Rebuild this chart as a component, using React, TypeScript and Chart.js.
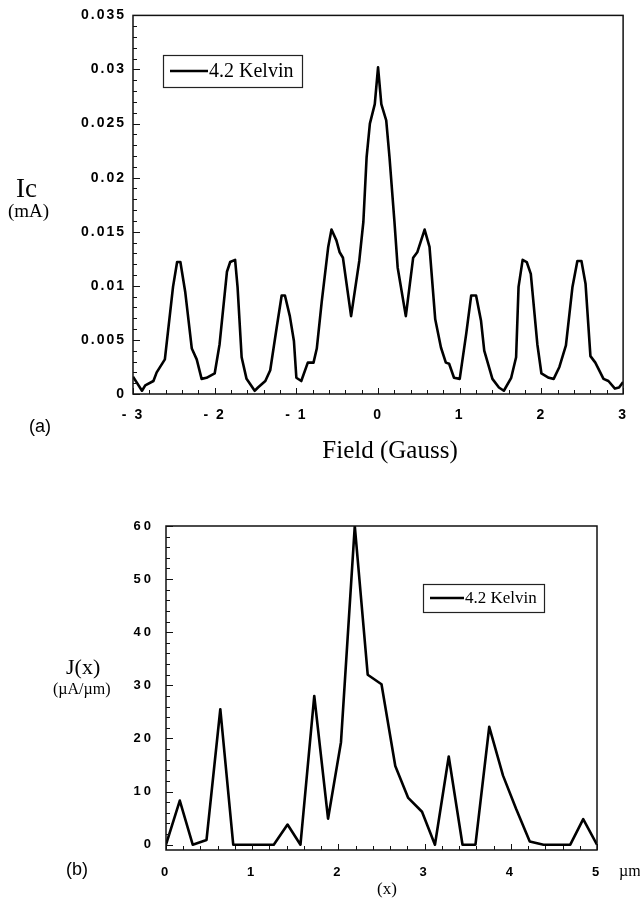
import React, { useEffect, useRef } from "react";
import { Chart, registerables } from "chart.js";

Chart.register(...registerables);

// ---------- Panel (a): critical current vs field ----------
const fieldGauss = [
  -3.0, -2.89, -2.85, -2.75, -2.71, -2.61, -2.51, -2.46, -2.42, -2.36, -2.28, -2.22, -2.16, -2.1, -2.0,
  -1.94, -1.85, -1.81, -1.75, -1.72, -1.67, -1.61, -1.51, -1.47, -1.38, -1.32, -1.24, -1.18, -1.14, -1.08,
  -1.03, -1.0, -0.94, -0.86, -0.79, -0.75, -0.69, -0.61, -0.57, -0.51, -0.47, -0.43, -0.33, -0.23, -0.18,
  -0.14, -0.1, -0.04, 0.0, 0.04, 0.1, 0.14, 0.2, 0.24, 0.34, 0.43, 0.48, 0.57, 0.63, 0.7, 0.77, 0.83, 0.87,
  0.93, 1.0, 1.08, 1.14, 1.2, 1.26, 1.3, 1.4, 1.48, 1.54, 1.63, 1.69, 1.72, 1.77, 1.82, 1.87, 1.95, 2.0,
  2.09, 2.15, 2.22, 2.3, 2.38, 2.44, 2.49, 2.54, 2.6, 2.66, 2.76, 2.82, 2.9, 2.95, 3.0,
];
const icMilliAmp = [
  0.0016, 0.0003, 0.0008, 0.0012, 0.002, 0.0032, 0.0099, 0.0122, 0.0122, 0.0094, 0.0042, 0.0032, 0.0014, 0.0015, 0.0019,
  0.0046, 0.0113, 0.0122, 0.0124, 0.0099, 0.0034, 0.0014, 0.0003, 0.0006, 0.0012, 0.0022, 0.0062, 0.0091, 0.0091, 0.0072,
  0.0049, 0.0015, 0.0012, 0.0029, 0.0029, 0.0042, 0.0085, 0.0136, 0.0152, 0.0142, 0.0131, 0.0126, 0.0072, 0.0123, 0.0159,
  0.0219, 0.025, 0.0268, 0.0302, 0.0268, 0.0253, 0.0219, 0.016, 0.0117, 0.0072, 0.0126, 0.0131, 0.0152, 0.0136, 0.0069, 0.0043, 0.0029, 0.0028,
  0.0015, 0.0014, 0.0056, 0.0091, 0.0091, 0.0068, 0.004, 0.0014, 0.0006, 0.0003, 0.0015, 0.0034, 0.0099, 0.0124, 0.0122, 0.0111, 0.0046, 0.0019,
  0.0015, 0.0014, 0.0025, 0.0045, 0.0099, 0.0123, 0.0123, 0.0102, 0.0035, 0.0029, 0.0014, 0.0012, 0.0005, 0.0006, 0.0011,
];
const icTicks = [0, 0.005, 0.01, 0.015, 0.02, 0.025, 0.03, 0.035];
const icTickLabels = ["0", "0.005", "0.01", "0.015", "0.02", "0.025", "0.03", "0.035"];
const fieldTicks = [-3, -2, -1, 0, 1, 2, 3];
const fieldTickLabels = ["- 3", "- 2", "- 1", "0", "1", "2", "3"];

// ---------- Panel (b): current density vs position ----------
const positionMicron = [
  0.0, 0.16, 0.31, 0.47, 0.63, 0.78, 0.94, 1.09, 1.25, 1.41, 1.56, 1.72, 1.88, 2.03, 2.19, 2.34, 2.5,
  2.66, 2.81, 2.97, 3.12, 3.28, 3.44, 3.59, 3.75, 3.91, 4.06, 4.22, 4.38, 4.53, 4.69, 4.84, 5.0,
];
const currentDensity = [
  0, 8.3, 0, 0.9, 25.5, 0, 0, 0, 0, 3.8, 0, 28, 4.9, 19.3, 60, 32, 30.2,
  14.8, 8.8, 6.2, 0, 16.6, 0, 0, 22.2, 13, 6.8, 0.6, 0, 0, 0, 4.8, 0,
];
const jTicks = [0, 10, 20, 30, 40, 50, 60];
const jTickLabels = ["0", "10", "20", "30", "40", "50", "60"];
const posTicks = [0, 1, 2, 3, 4, 5];
const posTickLabels = ["0", "1", "2", "3", "4", "5"];

const seriesLabel = "4.2 Kelvin";

type TextItem = { text: string; x: number; y: number; font: string; align?: CanvasTextAlign };

function framePlugin(cfg: {
  xMinor: number;
  yMinor: number;
  xMajor: number[];
  yMajor: number[];
  yFrom: number;
  yTo: number;
  letter: string;
  texts: TextItem[];
  legend: { x: number; y: number; w: number; h: number; lineLen: number; font: string };
}) {
  return {
    id: "frame",
    beforeDraw(chart: any) {
      const ctx = chart.ctx;
      ctx.fillStyle = "#fff";
      ctx.fillRect(0, 0, chart.width, chart.height);
      (ctx as any).letterSpacing = cfg.letter;
    },
    afterDraw(chart: any) {
      const ctx = chart.ctx;
      const { left, right, top, bottom } = chart.chartArea;
      const xs = chart.scales.x;
      const ys = chart.scales.y;
      ctx.save();
      (ctx as any).letterSpacing = "0px";
      ctx.strokeStyle = "#111";
      ctx.lineWidth = 1.5;
      ctx.strokeRect(left, top, right - left, bottom - top);
      ctx.lineWidth = 1;
      ctx.beginPath();
      for (let v = xs.min; v <= xs.max + 1e-9; v += cfg.xMinor) {
        const px = Math.round(xs.getPixelForValue(v)) + 0.5;
        ctx.moveTo(px, bottom);
        ctx.lineTo(px, bottom - 4);
      }
      for (const v of cfg.xMajor) {
        const px = Math.round(xs.getPixelForValue(v)) + 0.5;
        ctx.moveTo(px, bottom);
        ctx.lineTo(px, bottom - 6);
      }
      for (let v = cfg.yFrom; v <= cfg.yTo + 1e-9; v += cfg.yMinor) {
        const py = Math.round(ys.getPixelForValue(v)) + 0.5;
        ctx.moveTo(left, py);
        ctx.lineTo(left + 4, py);
      }
      for (const v of cfg.yMajor) {
        const py = Math.round(ys.getPixelForValue(v)) + 0.5;
        ctx.moveTo(left, py);
        ctx.lineTo(left + 7, py);
      }
      ctx.stroke();

      const lg = cfg.legend;
      ctx.fillStyle = "#fff";
      ctx.fillRect(lg.x, lg.y, lg.w, lg.h);
      ctx.lineWidth = 1.2;
      ctx.strokeStyle = "#222";
      ctx.strokeRect(lg.x + 0.5, lg.y + 0.5, lg.w, lg.h);
      ctx.lineWidth = 2.5;
      ctx.strokeStyle = "#000";
      ctx.beginPath();
      ctx.moveTo(lg.x + 7, lg.y + lg.h / 2);
      ctx.lineTo(lg.x + 7 + lg.lineLen, lg.y + lg.h / 2);
      ctx.stroke();
      ctx.fillStyle = "#000";
      ctx.font = lg.font;
      ctx.textAlign = "left";
      ctx.textBaseline = "middle";
      ctx.fillText(chart.data.datasets[0].label, lg.x + 8 + lg.lineLen, lg.y + lg.h / 2 + 1);

      for (const t of cfg.texts) {
        ctx.font = t.font;
        ctx.textAlign = t.align || "left";
        ctx.textBaseline = "middle";
        ctx.fillText(t.text, t.x, t.y);
      }
      ctx.restore();
    },
  };
}

function buildChart(
  canvas: HTMLCanvasElement,
  xs: number[],
  ys: number[],
  o: {
    xMin: number; xMax: number; yMin: number; yMax: number;
    xTicks: number[]; xLabels: string[]; yTicks: number[]; yLabels: string[];
    yWidth: number; xHeight: number; padTop: number; padRight: number;
    tickSize: number; xPad: number; yPad: number;
    plugin: any;
  }
) {
  const font = { family: "'Liberation Sans', Arial, sans-serif", weight: "bold" as const, size: o.tickSize };
  return new Chart(canvas, {
    type: "scatter",
    data: {
      datasets: [
        {
          label: seriesLabel,
          data: xs.map((x, i) => ({ x, y: ys[i] })),
          showLine: true,
          borderColor: "#000",
          borderWidth: 2.6,
          pointRadius: 0,
          tension: 0,
          borderJoinStyle: "round",
        },
      ],
    },
    options: {
      animation: false,
      responsive: false,
      events: [],
      layout: { padding: { top: o.padTop, right: o.padRight, left: 0, bottom: 0 } },
      plugins: { legend: { display: false }, tooltip: { enabled: false } },
      scales: {
        x: {
          type: "linear",
          min: o.xMin,
          max: o.xMax,
          grid: { display: false, drawTicks: false },
          border: { display: false },
          afterBuildTicks: (s: any) => {
            s.ticks = o.xTicks.map((v) => ({ value: v }));
          },
          afterFit: (s: any) => {
            s.height = o.xHeight;
          },
          ticks: {
            autoSkip: false,
            maxRotation: 0,
            padding: o.xPad,
            color: "#000",
            font,
            callback: (_v: any, i: number) => o.xLabels[i],
          },
        },
        y: {
          type: "linear",
          min: o.yMin,
          max: o.yMax,
          grid: { display: false, drawTicks: false },
          border: { display: false },
          afterBuildTicks: (s: any) => {
            s.ticks = o.yTicks.map((v) => ({ value: v }));
          },
          afterFit: (s: any) => {
            s.width = o.yWidth;
          },
          ticks: {
            autoSkip: false,
            padding: o.yPad,
            color: "#000",
            font,
            callback: (_v: any, i: number) => o.yLabels[i],
          },
        },
      },
    },
    plugins: [o.plugin],
  } as any);
}

const serif = "'Liberation Serif', 'Times New Roman', serif";
const sans = "'Liberation Sans', Arial, sans-serif";

export default function App() {
  const refA = useRef<HTMLCanvasElement>(null);
  const refB = useRef<HTMLCanvasElement>(null);

  useEffect(() => {
    const a = buildChart(refA.current!, fieldGauss, icMilliAmp, {
      xMin: -3, xMax: 3, yMin: 0, yMax: 0.035,
      xTicks: fieldTicks, xLabels: fieldTickLabels, yTicks: icTicks, yLabels: icTickLabels,
      yWidth: 133, xHeight: 76, padTop: 15, padRight: 16,
      tickSize: 14, xPad: 13, yPad: 7,
      plugin: framePlugin({
        xMinor: 0.2, yMinor: 0.001, xMajor: fieldTicks, yMajor: icTicks, yFrom: 0, yTo: 0.035,
        letter: "2px",
        legend: { x: 163, y: 55, w: 139, h: 32, lineLen: 38, font: `20px ${serif}` },
        texts: [
          { text: "Ic", x: 16, y: 190, font: `27px ${serif}` },
          { text: "(mA)", x: 8, y: 212, font: `19px ${serif}` },
          { text: "(a)", x: 29, y: 427, font: `18px ${sans}` },
          { text: "Field (Gauss)", x: 390, y: 451, font: `25px ${serif}`, align: "center" },
        ],
      }),
    });
    const b = buildChart(refB.current!, positionMicron, currentDensity, {
      xMin: 0, xMax: 5, yMin: -1, yMax: 60,
      xTicks: posTicks, xLabels: posTickLabels, yTicks: jTicks, yLabels: jTickLabels,
      yWidth: 166, xHeight: 48, padTop: 56, padRight: 43,
      tickSize: 13, xPad: 15, yPad: 12,
      plugin: framePlugin({
        xMinor: 0.2, yMinor: 2, xMajor: posTicks, yMajor: jTicks, yFrom: 0, yTo: 60,
        letter: "3px",
        legend: { x: 423, y: 114, w: 121, h: 28, lineLen: 34, font: `17px ${serif}` },
        texts: [
          { text: "J(x)", x: 66, y: 198, font: `22px ${serif}` },
          { text: "(\u00b5A/\u00b5m)", x: 53, y: 220, font: `16px ${serif}` },
          { text: "(b)", x: 66, y: 400, font: `18px ${sans}` },
          { text: "\u00b5m", x: 619, y: 402, font: `16px ${serif}` },
          { text: "(x)", x: 387, y: 420, font: `17px ${serif}`, align: "center" },
        ],
      }),
    });
    return () => {
      a.destroy();
      b.destroy();
    };
  }, []);

  return (
    <div style={{ position: "absolute", left: 0, top: 0, width: 640, height: 898, background: "#fff" }}>
      <canvas ref={refA} width={640} height={470} style={{ position: "absolute", left: 0, top: 0 }} />
      <canvas ref={refB} width={640} height={428} style={{ position: "absolute", left: 0, top: 470 }} />
    </div>
  );
}
